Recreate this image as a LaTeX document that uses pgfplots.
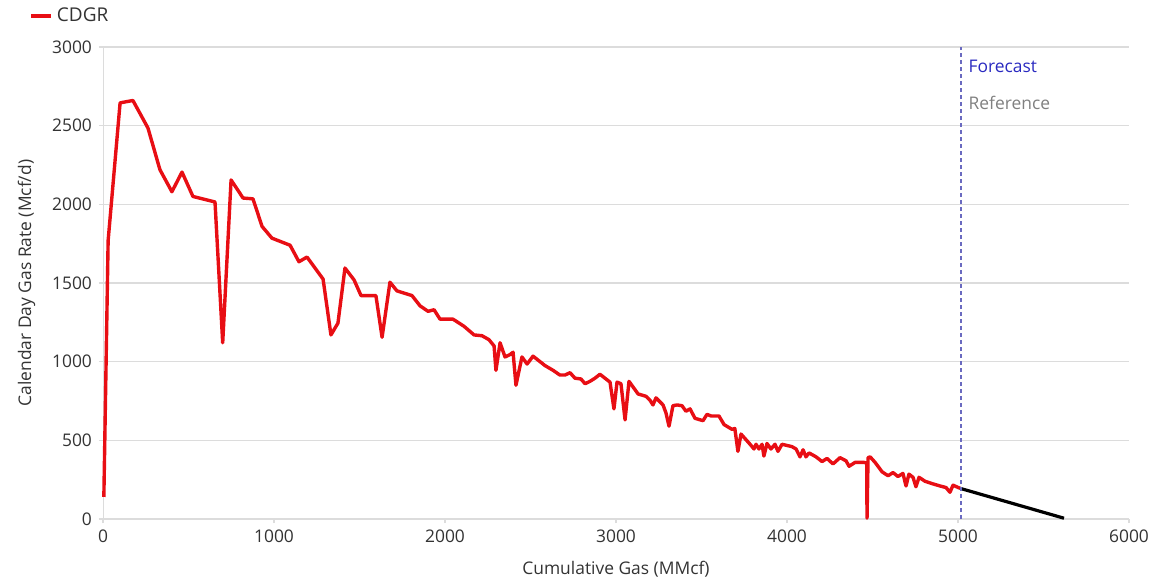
\documentclass[border=0pt]{standalone}
\usepackage{pgfplots}
\pgfplotsset{compat=1.18}
\usepackage{fontspec}
\setmainfont{Open Sans}
\definecolor{cdgr}{HTML}{E80E14}
\definecolor{txt}{HTML}{333333}
\definecolor{gridc}{HTML}{DCDCDC}
\definecolor{fc}{HTML}{2A2AC0}
\definecolor{dashc}{HTML}{6A6AC0}
\begin{document}
\begin{tikzpicture}
\begin{axis}[
  name=ax,
  scale only axis, width=513pt, height=236pt,
  xmin=0, xmax=6000, ymin=0, ymax=3000,
  xtick={0,1000,...,6000}, ytick={0,500,...,3000},
  axis x line=bottom, axis y line=left,
  axis line style={gridc, -}, 
  ymajorgrids, grid style={gridc, line width=0.6pt},
  tick align=outside, major tick length=2pt, tick style={gridc, line width=0.6pt},
  every tick label/.append style={font=\fontsize{8.7}{10}\selectfont, text=txt},
  /pgf/number format/assume math mode=true,
  /pgf/number format/1000 sep={},
  xlabel={Cumulative Gas (MMcf)}, ylabel={Calendar Day Gas Rate (Mcf/d)},
  label style={font=\fontsize{8.7}{10}\selectfont, text=txt},
  xlabel style={yshift=-2.5pt}, ylabel style={yshift=1.5pt},
  legend style={at={(-0.072,1.066)}, anchor=west, draw=none, fill=none, font=\fontsize{9.5}{11}\selectfont, inner sep=0pt},
  legend image code/.code={\draw[cdgr, line width=1.7pt] (0pt,0pt) -- (10pt,0pt);},
  clip=false,
]
\addplot[cdgr, line width=1.7pt, line join=round] coordinates {
(5,140) (30,1770) (100,2645) (175,2660) (263,2485) (333,2220) (403,2080) (462,2205) (526,2050) (655,2015)
(700,1120) (749,2155) (819,2040) (877,2035) (930,1860) (988,1785) (1094,1740) (1146,1635) (1193,1665) (1287,1525)
(1333,1170) (1374,1245) (1415,1595) (1468,1520) (1509,1420) (1596,1420) (1632,1155) (1678,1505) (1719,1450) (1807,1420)
(1854,1355) (1901,1320) (1936,1330) (1971,1270) (2047,1270) (2111,1225) (2170,1170) (2216,1165) (2257,1140) (2287,1100)
(2298,945) (2322,1120) (2351,1030) (2380,1045) (2398,1060) (2415,850) (2450,1030) (2480,985) (2515,1035) (2585,975)
(2632,945) (2672,915) (2702,915) (2731,930) (2760,895) (2795,890) (2819,860) (2848,875) (2877,895) (2906,920)
(2965,870) (2988,700) (3006,870) (3029,860) (3053,630) (3076,875) (3129,795) (3175,780) (3199,755) (3216,725)
(3234,770) (3275,725) (3292,675) (3310,590) (3333,720) (3357,725) (3386,720) (3409,685) (3433,700) (3462,640)
(3509,625) (3532,665) (3556,655) (3602,655) (3632,600) (3655,585) (3678,570) (3695,575) (3713,430) (3731,540)
(3784,475) (3807,445) (3819,475) (3836,445) (3854,475) (3865,400) (3883,480) (3906,445) (3930,475) (3947,430)
(3971,475) (4029,460) (4053,445) (4076,395) (4094,440) (4111,395) (4129,420) (4170,395) (4205,365) (4234,385)
(4269,350) (4310,390) (4345,370) (4363,335) (4398,360) (4427,360) (4450,360) (4466,355) (4468,5) (4474,390)
(4486,395) (4515,360) (4556,300) (4591,275) (4620,295) (4649,270) (4678,290) (4696,210) (4713,285) (4737,265)
(4754,205) (4772,265) (4807,240) (4848,225) (4895,210) (4930,200) (4953,170) (4971,215) (5012,195)
};
\addlegendentry{\textcolor{txt}{CDGR}}
\addplot[black, line width=1.6pt, forget plot] coordinates {(5012,195) (5620,5)};
\addplot[dashc, dash pattern=on 2pt off 1.5pt, line width=0.7pt, forget plot] coordinates {(5018,0) (5018,3000)};
\node[anchor=west, text=fc, font=\fontsize{8.7}{10}\selectfont, inner sep=0pt] at (axis cs:5060,2880) {Forecast};
\node[anchor=west, text=gray, font=\fontsize{8.7}{10}\selectfont, inner sep=0pt] at (axis cs:5060,2645) {Reference};
\end{axis}
\pgfresetboundingbox
\path[use as bounding box] ([shift={(-51.5pt,-30.5pt)}]ax.south west) rectangle ([shift={(21.5pt,23.5pt)}]ax.north east);
\end{tikzpicture}
\end{document}
